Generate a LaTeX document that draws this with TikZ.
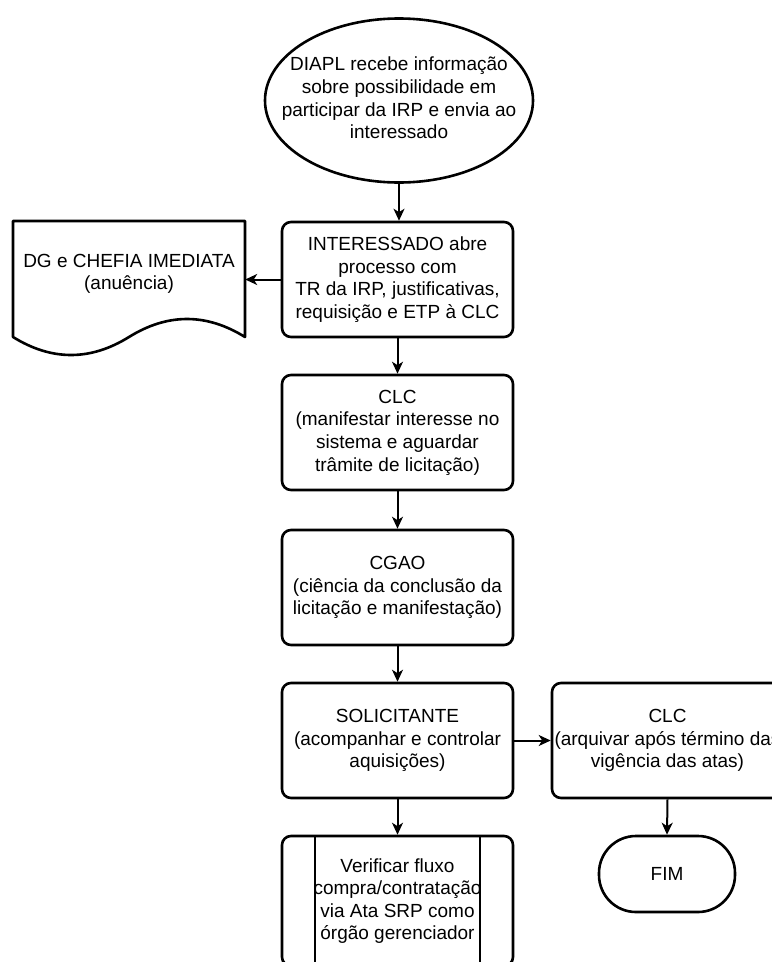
\documentclass[tikz,border=0pt]{standalone}
\usepackage{fontspec}
\setmainfont{Liberation Sans}
\usetikzlibrary{arrows.meta,shapes.geometric}
\begin{document}
\begin{tikzpicture}[x=1bp,y=-1bp,
  every node/.style={font=\fontsize{19bp}{22.6bp}\selectfont, align=center, inner sep=0pt},
  box/.style={draw, line width=2.6bp, rounded corners=9bp, minimum width=231bp, minimum height=115bp},
  arr/.style={line width=2bp, -{Stealth[length=12bp,width=11bp,inset=3.5bp]}},
  shp/.style={line width=2.6bp, line join=round}
]
\useasboundingbox (0,0) rectangle (772,962);
\clip (0,0) rectangle (772,962);

\node[draw, ellipse, line width=2.6bp, minimum width=268bp, minimum height=164bp] (start) at (399,100.5) {};
\node at (399,98) {DIAPL recebe informação\\sobre possibilidade em\\participar da IRP e envia ao\\interessado};

\node[box] (int) at (397.5,279.5) {INTERESSADO abre\\processo com\\TR da IRP, justificativas,\\requisição e ETP à CLC};

% document shape
\node[minimum width=232bp] (doc) at (129,274) {DG e CHEFIA IMEDIATA\\(anuência)};
\draw[shp] (13,221) -- (245,221) -- (245,337)
  .. controls (206.33,313) and (167.67,313) .. (129,337)
  .. controls (90.33,361) and (51.67,361) .. (13,337) -- cycle;

\node[box] (clc) at (397.5,432.5) {CLC\\(manifestar interesse no\\sistema e aguardar\\trâmite de licitação)};
\node[box] (cgao) at (397.5,587.5) {CGAO\\(ciência da conclusão da\\licitação e manifestação)};
\node[box] (sol) at (397.5,740.5) {SOLICITANTE\\(acompanhar e controlar\\aquisições)};
\node[box] (clc2) at (667.5,740.5) {CLC\\(arquivar após término das\\vigência das atas)};

% predefined process
\node[box, minimum height=130bp] (proc) at (397.5,901) {};
\node at (397.5,901) {Verificar fluxo\\compra/contratação\\via Ata SRP como\\órgão gerenciador};
\draw[shp] (315,836) -- (315,966);
\draw[shp] (480,836) -- (480,966);

\node[draw, line width=2.6bp, rounded corners=37bp, minimum width=136bp, minimum height=76bp] (fim) at (667,874) {FIM};

\draw[arr] (start.south) -- (start.south |- int.north);
\draw[arr] (int.west) -- (int.west -| doc.east);
\draw[arr] (int.south) -- (clc.north);
\draw[arr] (clc.south) -- (cgao.north);
\draw[arr] (cgao.south) -- (sol.north);
\draw[arr] (sol.east) -- (clc2.west);
\draw[arr] (sol.south) -- (proc.north);
\draw[arr] (clc2.south) -- (fim.north);
\end{tikzpicture}
\end{document}
